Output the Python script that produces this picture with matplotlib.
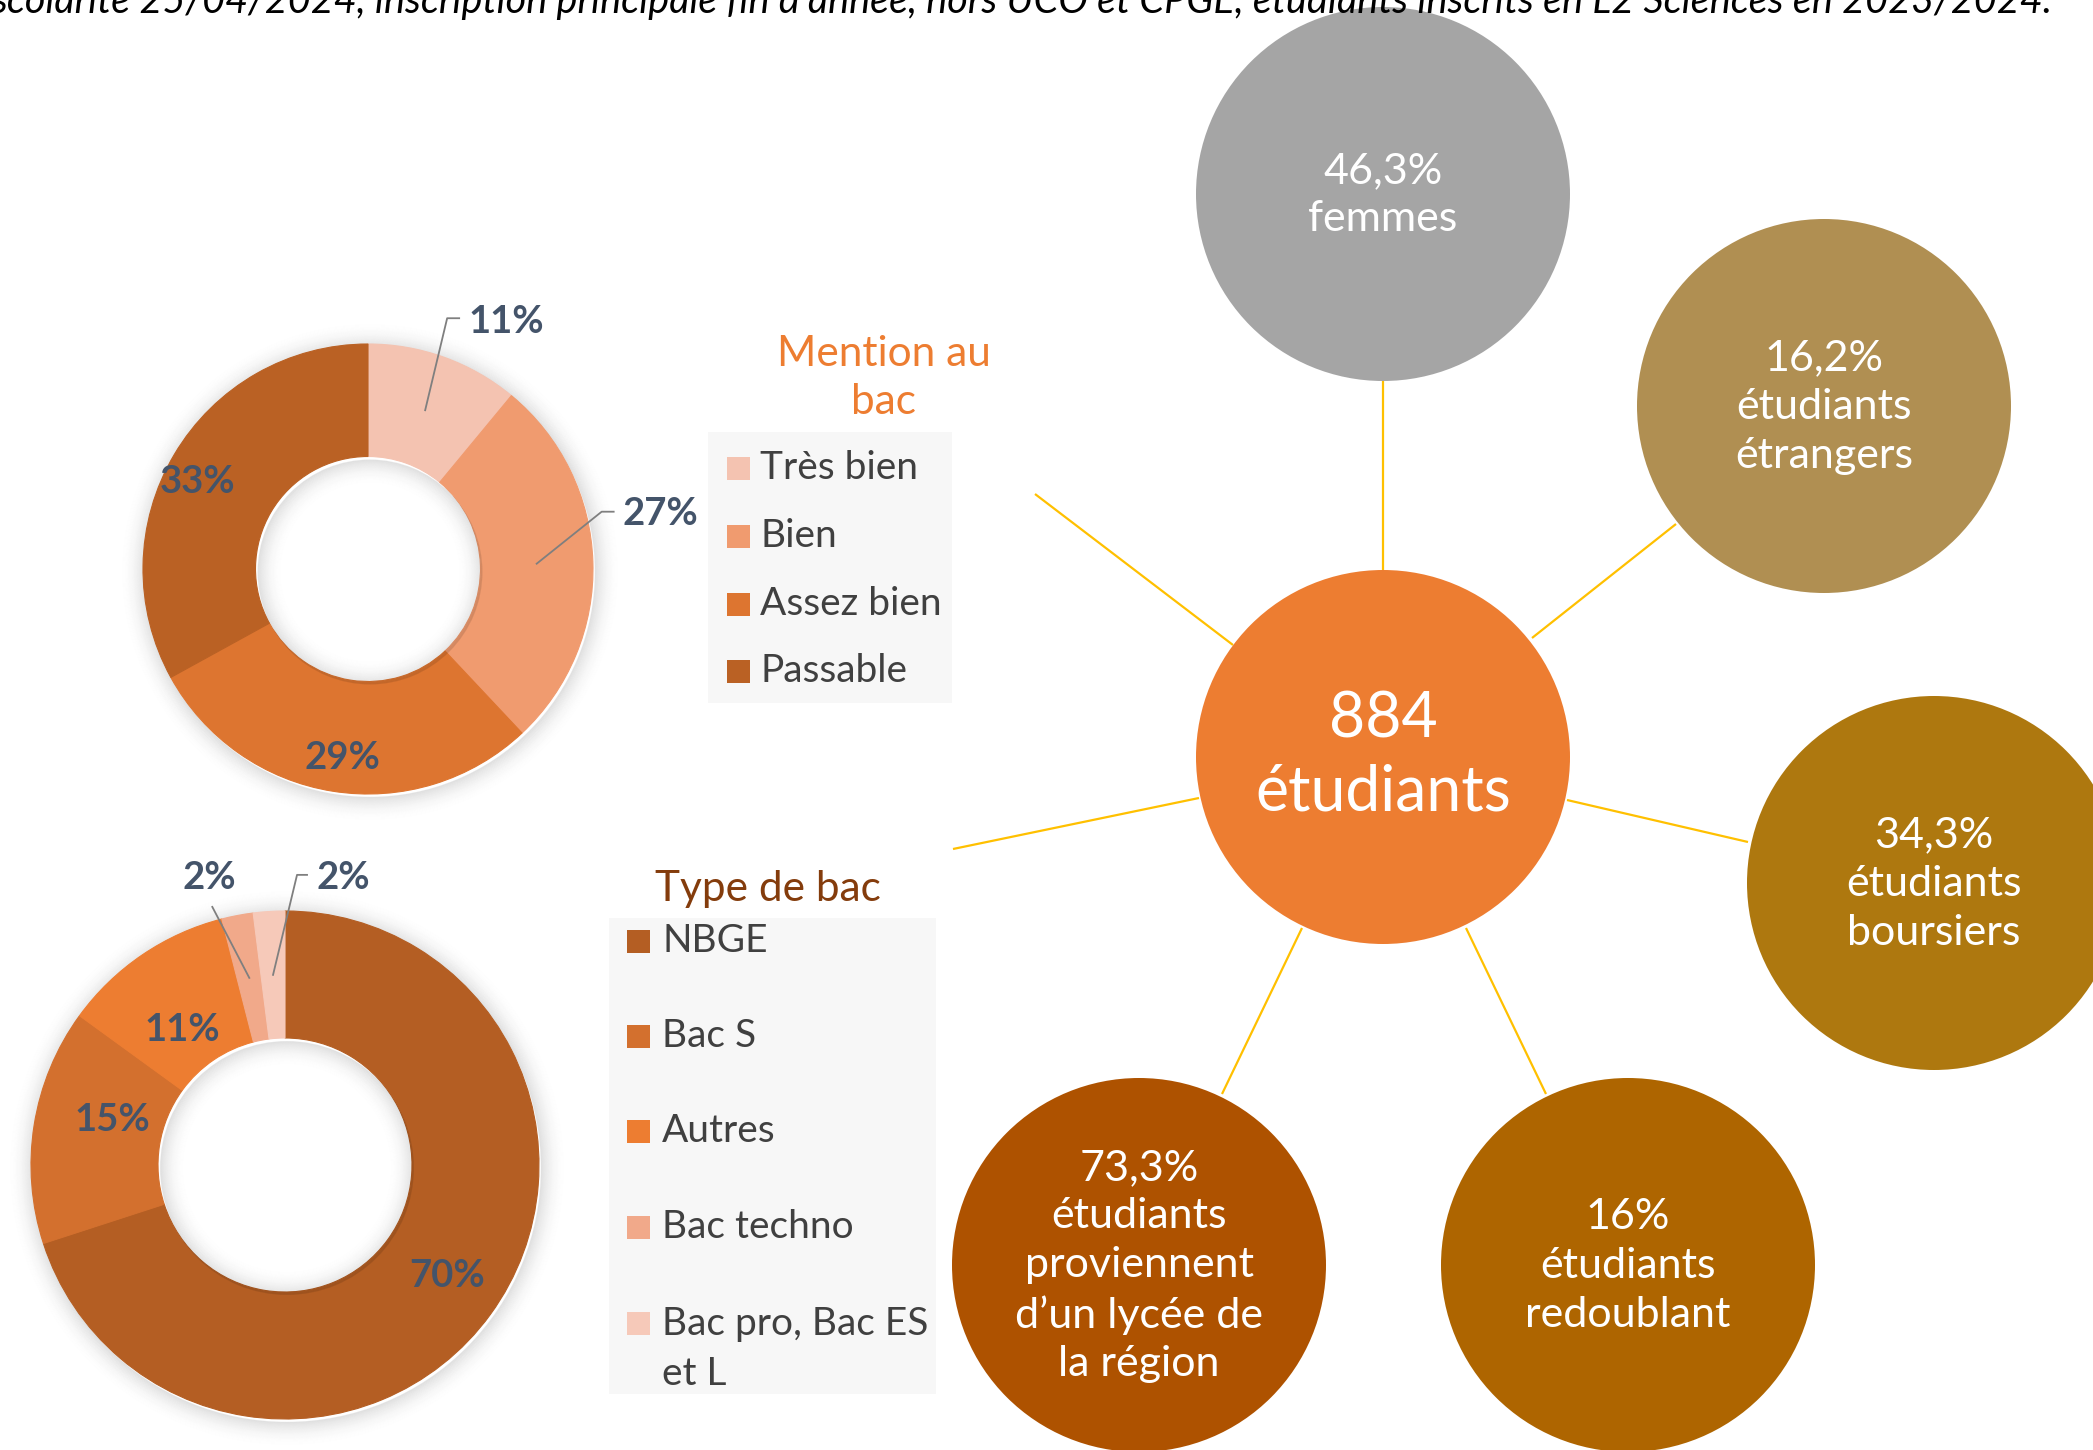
import numpy as np
import matplotlib.pyplot as plt
from matplotlib.patches import Circle, Rectangle, Wedge

plt.rcParams['font.family'] = ['Lato', 'DejaVu Sans']

W, H = 2093, 1450

# --- data ---
mention_labels = ['Très bien', 'Bien', 'Assez bien', 'Passable']
mention_pct = [11, 27, 29, 33]
mention_colors = ['#F4C3B1', '#F09B6F', '#DD7530', '#BA6124']

type_labels = ['NBGE', 'Bac S', 'Autres', 'Bac techno', 'Bac pro, Bac ES\net L']
type_pct = [70, 15, 11, 2, 2]
type_colors = ['#B45E23', '#D3702E', '#ED7D31', '#F1A98A', '#F6C9B9']

total_etudiants = 884
stat_values = ['46,3%', '16,2%', '34,3%', '16%', '73,3%']
stat_labels = ['femmes', 'étudiants\nétrangers', 'étudiants\nboursiers',
               'étudiants\nredoublant',
               'étudiants\nproviennent\nd’un lycée de\nla région']
stat_colors = ['#A5A5A5', '#B08F52', '#AE780F', '#AE6500', '#AE5200']

source = ('scolarité 25/04/2024, inscription principale fin d’année, hors UCO et CPGE, '
          'étudiants inscrits en L2 Sciences en 2023/2024.')

label_color = '#44546A'
text_color = '#404040'
link_color = '#FFC000'

fig = plt.figure(figsize=(W / 100, H / 100), dpi=100)
ax = fig.add_axes([0, 0, 1, 1])


def mid_point(w, frac):
    a = np.deg2rad((w.theta1 + w.theta2) / 2)
    cx, cy = w.center
    return cx + w.r * frac * np.cos(a), cy + w.r * frac * np.sin(a)


def soft_shadow(center, radius, hole, spread=26):
    # fake blurred shadow around the ring and inside the hole
    for d in range(spread):
        a = 0.10 * (1 - d / spread) ** 2
        ax.add_patch(Wedge((center[0] + 2, center[1] + 3), radius + d + 1, 0, 360,
                           width=1.2, facecolor='black', alpha=a,
                           edgecolor='none', zorder=0))
        if hole - d - 1 > 0:
            ax.add_patch(Wedge((center[0] + 2, center[1] + 3), hole - d, 0, 360,
                               width=1.2, facecolor='black', alpha=a,
                               edgecolor='none', zorder=3))


def donut(values, colors, center, radius):
    # y axis is inverted, so counterclock=True draws clockwise on screen
    wedges, _ = ax.pie(values, colors=colors, center=center, radius=radius,
                       startangle=-90, counterclock=True,
                       wedgeprops=dict(width=radius / 2, linewidth=0.8))
    for w in wedges:
        w.set_edgecolor(w.get_facecolor())
        w.set_zorder(2)
    soft_shadow(center, radius, radius / 2)
    return wedges


def inside_label(w, txt, frac, nudge=(0, 0)):
    x, y = mid_point(w, frac)
    ax.text(x + nudge[0], y + nudge[1], txt, ha='center', va='center', fontsize=27.5,
            fontweight='bold', color=label_color, zorder=5)


def leader_label(w, txt, frac, knee, tick, text_off):
    x0, y0 = mid_point(w, frac)
    xs = [x0, x0 + knee[0], x0 + knee[0] + tick]
    ys = [y0, y0 + knee[1], y0 + knee[1]]
    ax.plot(xs, ys, color='#7F7F7F', lw=1.3, zorder=5)
    ax.text(x0 + text_off[0], y0 + text_off[1], txt, ha='left', va='center',
            fontsize=27.5, fontweight='bold', color=label_color, zorder=5)


# --- donut "mention au bac" ---
w1 = donut(mention_pct, mention_colors, (368, 569), 225)
pct1 = [f'{v}%' for v in mention_pct]
leader_label(w1[0], pct1[0], 0.75, (22, -92), 12, (43, -88))
leader_label(w1[1], pct1[1], 0.75, (65, -52), 12, (86, -50))
inside_label(w1[2], pct1[2], 0.84, (4, 2))
inside_label(w1[3], pct1[3], 0.86, (-4, 11))

# --- donut "type de bac" ---
w2 = donut(type_pct, type_colors, (285, 1165), 254)
pct2 = [f'{v}%' for v in type_pct]
inside_label(w2[0], pct2[0], 0.77, (4, -4))
inside_label(w2[1], pct2[1], 0.71, (5, -17))
inside_label(w2[2], pct2[2], 0.67, (-7, 6))
leader_label(w2[3], pct2[3], 0.75, (-37, -71), 0, (-67, -100))
leader_label(w2[4], pct2[4], 0.75, (24, -100), 10, (43, -97))


# --- legends ---
def legend_block(labels, colors, title, title_color, title_y, title_x,
                 box, sq_x, txt_x, ys):
    bx0, by0, bx1, by1 = box
    ax.add_patch(Rectangle((bx0, by0), bx1 - bx0, by1 - by0,
                           facecolor='#F7F7F7', edgecolor='none', zorder=1))
    ax.text(title_x, title_y, title, ha='center', va='center', fontsize=30.5,
            color=title_color, linespacing=1.3)
    for lab, col, y in zip(labels, colors, ys):
        ax.add_patch(Rectangle((sq_x, y - 11.5), 23, 23, facecolor=col,
                               edgecolor='none', zorder=2))
        ax.text(txt_x, y, lab, ha='left', va='center',
                fontsize=28, color=text_color, linespacing=1.45, zorder=3)


legend_block(mention_labels, mention_colors, 'Mention au\nbac', '#ED7D31', 378, 884,
             (708, 432, 952, 703), 727, 760, [468, 536, 604, 671])
legend_block(type_labels[:4], type_colors[:4], 'Type de bac', '#843C0C', 889, 768,
             (609, 918, 936, 1394), 627, 662, [941, 1036, 1131, 1227])
ax.add_patch(Rectangle((627, 1323 - 11.5), 23, 23, facecolor=type_colors[4],
                       edgecolor='none', zorder=2))
ax.text(662, 1349, type_labels[4], ha='left', va='center', fontsize=28,
        color=text_color, linespacing=1.45, zorder=3)

# --- central diagram ---
hub = (1383, 757)
sats = [(1383, 194), (1824, 406), (1934, 883), (1628, 1265), (1139, 1265)]
R = 187

links = [((1383, 381), (1383, 571)),
         ((1532, 638), (1676, 524)),
         ((1567, 800), (1748, 842)),
         ((1466, 928), (1546, 1094)),
         ((1302, 928), (1222, 1094)),
         ((1199, 798), (953, 849)),
         ((1233, 645), (1035, 494))]
for (xa, ya), (xb, yb) in links:
    ax.plot([xa, xb], [ya, yb], color=link_color, lw=1.6, zorder=1,
            solid_capstyle='butt')

ax.add_patch(Circle(hub, R, facecolor='#ED7D31', edgecolor='none', zorder=2))
ax.text(hub[0], hub[1] - 1, f'{total_etudiants}\nétudiants', ha='center',
        va='center', fontsize=45, color='white', linespacing=1.32, zorder=3)

for (cx, cy), val, lab, col in zip(sats, stat_values, stat_labels, stat_colors):
    ax.add_patch(Circle((cx, cy), R, facecolor=col, edgecolor='none', zorder=2))
    ax.text(cx, cy + 1, f'{val}\n{lab}', ha='center', va='center', fontsize=31,
            color='white', linespacing=1.34, zorder=3)

# --- source line (cut by top edge, as in the original) ---
ax.text(2052, 13, source, ha='right', va='baseline', fontsize=28.5,
        style='italic', color='black')

ax.set_xlim(0, W)
ax.set_ylim(H, 0)
ax.set_aspect('equal')
ax.axis('off')

fig.savefig('out.png', dpi=100, facecolor='white')
